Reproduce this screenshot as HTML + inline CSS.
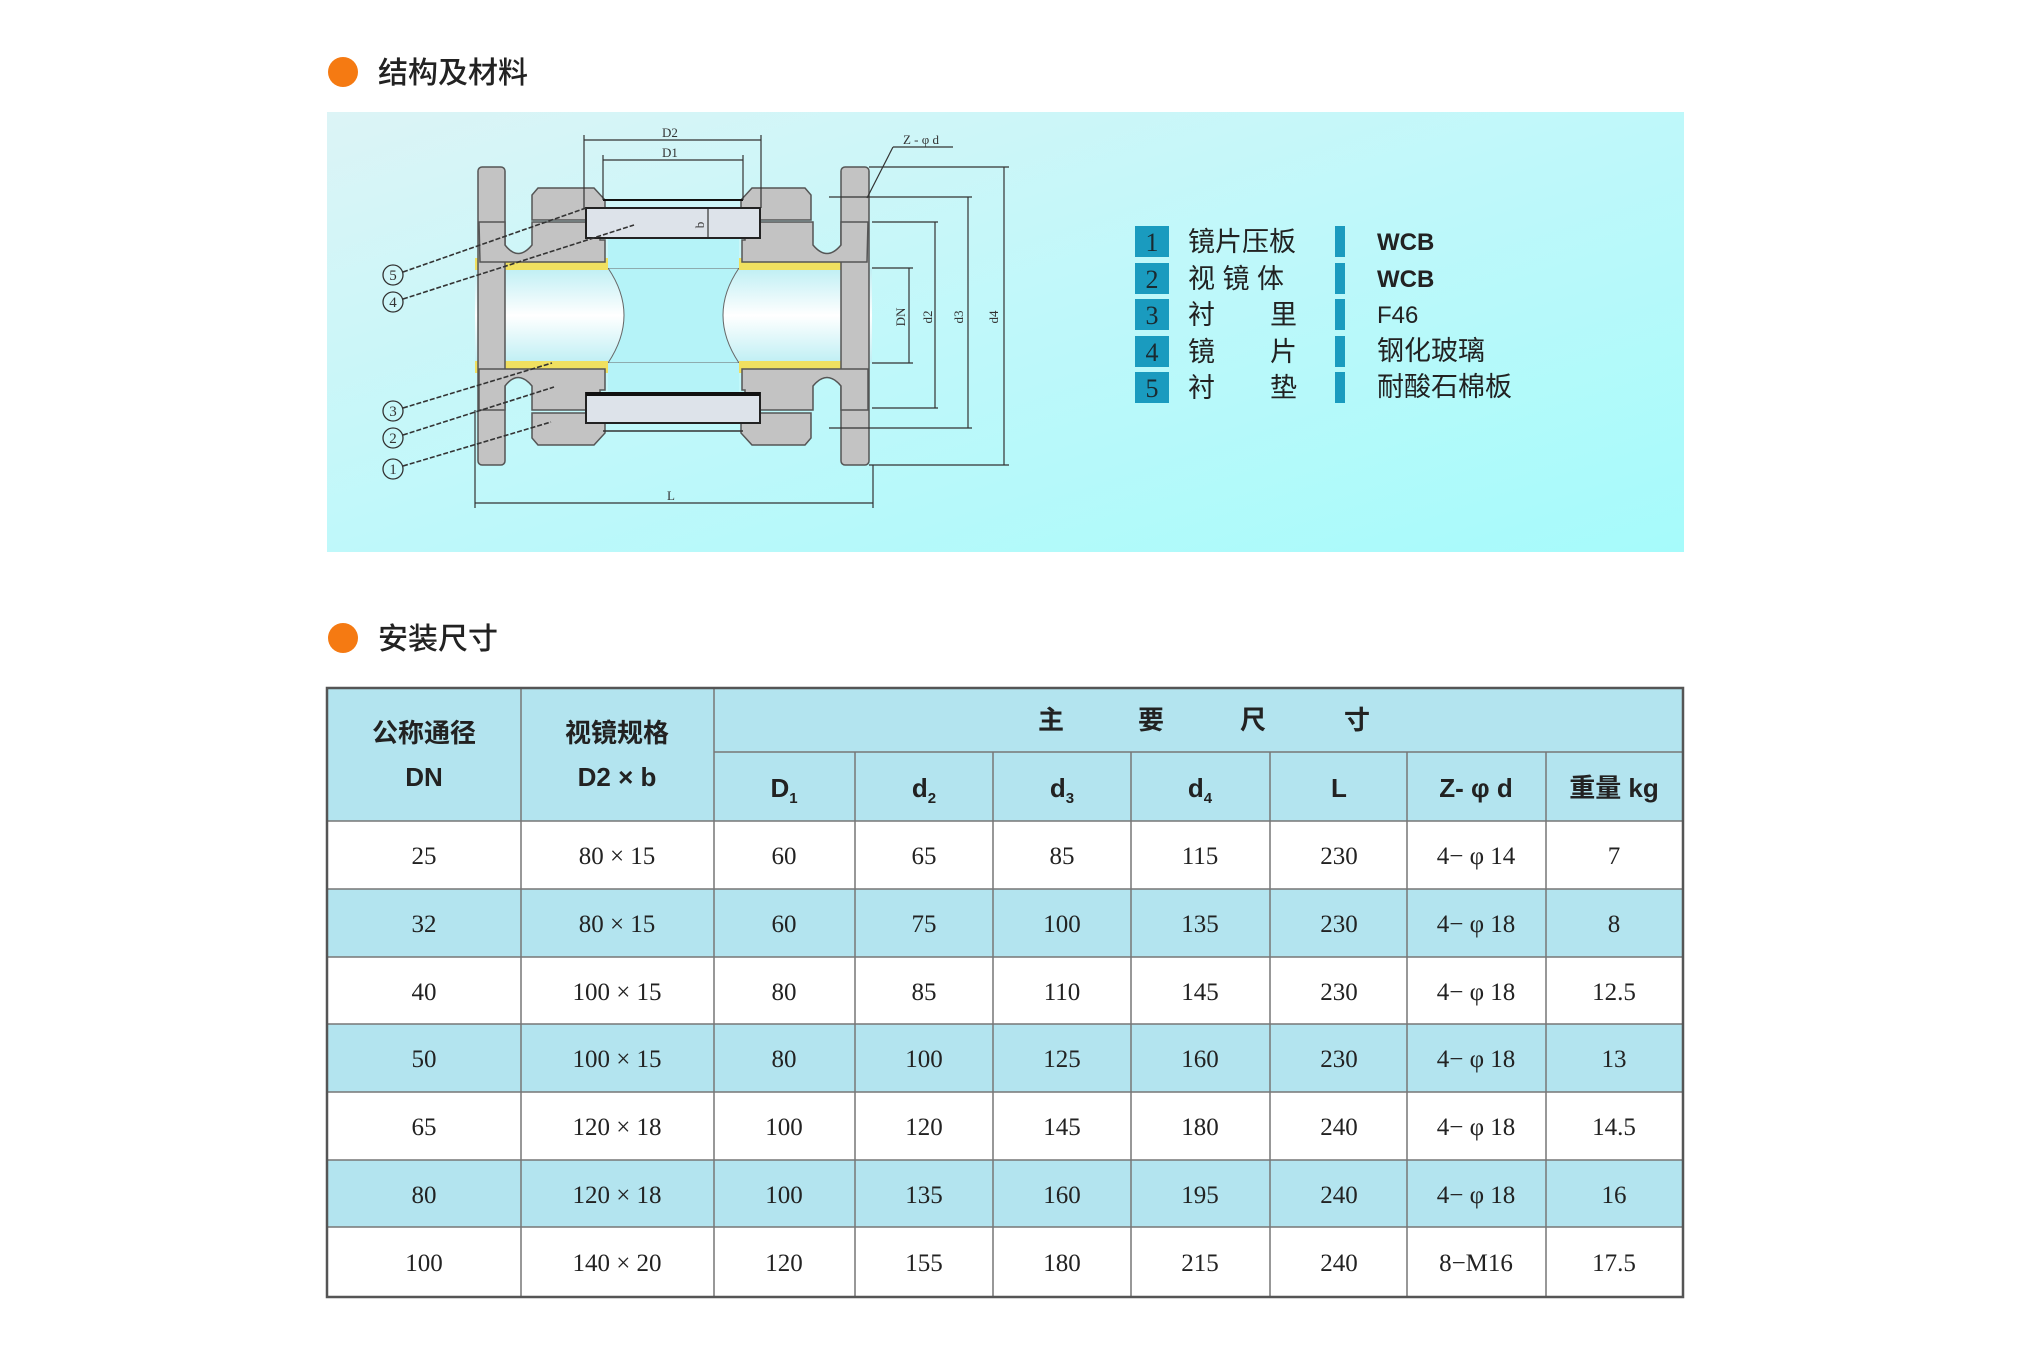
<!DOCTYPE html>
<html><head><meta charset="utf-8"><style>
html,body{margin:0;padding:0;background:#fff;}
svg{display:block}
.cj{font-family:"Liberation Sans","Noto Sans CJK SC",sans-serif;}
.sf{font-family:"Liberation Serif","Noto Serif CJK SC",serif;}
</style></head><body>
<svg width="2041" height="1361" viewBox="0 0 2041 1361" xmlns="http://www.w3.org/2000/svg">
<defs>
<linearGradient id="pg" x1="0" y1="0" x2="1" y2="1">
<stop offset="0" stop-color="#dcf4f6"/><stop offset="0.5" stop-color="#bff8fa"/><stop offset="1" stop-color="#a6fbfb"/>
</linearGradient>
<linearGradient id="bore" x1="0" y1="0" x2="0" y2="1">
<stop offset="0" stop-color="#bfeff4"/><stop offset="0.5" stop-color="#ffffff"/><stop offset="1" stop-color="#bfeff4"/>
</linearGradient>
</defs>
<!-- title 1 -->
<circle cx="343" cy="72" r="15" fill="#f57a12"/>
<text x="378" y="83" class="cj" font-size="30" fill="#222" font-weight="500">结构及材料</text>
<!-- panel -->
<rect x="327" y="112" width="1357" height="440" fill="url(#pg)"/>

<!-- drawing -->
<g stroke="#555" stroke-width="1.5">
<rect x="475" y="268" width="397" height="95" fill="url(#bore)" stroke="none"/>
<path d="M608,268 Q640,315 608,363 L739,363 Q707,315 739,268 Z" fill="#b5f3f8" stroke="#666" stroke-width="1"/>
<rect x="608" y="238" width="131" height="30" fill="#b5f3f8" stroke="none"/>
<rect x="608" y="363" width="131" height="30" fill="#b5f3f8" stroke="none"/>
<path d="M475,258 L608,258 L608,270 L475,270 Z M868,258 L739,258 L739,270 L868,270Z" fill="#f0e060" stroke="none"/>
<path d="M475,361 L608,361 L608,373 L475,373 Z M868,361 L739,361 L739,373 L868,373Z" fill="#f0e060" stroke="none"/>
<rect x="478" y="167" width="27" height="298" rx="4" fill="#c3c3c3"/>
<rect x="841" y="167" width="28" height="298" rx="4" fill="#c3c3c3"/>
<path d="M479,222 L505,222 L505,245 Q518,262 532,245 L532,222 L600,222 L600,240 L605,240 L605,262 L480,262 Z" fill="#c3c3c3"/>
<path d="M868,222 L841,222 L841,245 Q827,262 813,245 L813,222 L745,222 L745,240 L742,240 L742,262 L867,262 Z" fill="#c3c3c3"/>
<path d="M479,369 L605,369 L605,390 L600,390 L600,410 L532,410 L532,386 Q518,369 505,386 L505,410 L479,410 Z" fill="#c3c3c3"/>
<path d="M868,369 L742,369 L742,390 L745,390 L745,410 L813,410 L813,386 Q827,369 841,386 L841,410 L868,410 Z" fill="#c3c3c3"/>
<path d="M538,188 L594,188 L605,200 L605,220 L532,220 L532,195 Z" fill="#c3c3c3"/>
<path d="M805,188 L752,188 L741,200 L741,220 L811,220 L811,195 Z" fill="#c3c3c3"/>
<path d="M538,445 L594,445 L605,433 L605,413 L532,413 L532,438 Z" fill="#c3c3c3"/>
<path d="M805,445 L752,445 L741,433 L741,413 L811,413 L811,438 Z" fill="#c3c3c3"/>
<line x1="603" y1="200" x2="743" y2="200" stroke="#111" stroke-width="2"/>
<rect x="586" y="208" width="174" height="30" fill="#dde3ea" stroke="#222" stroke-width="2"/>
<rect x="586" y="393" width="174" height="30" fill="#dde3ea" stroke="#222" stroke-width="2"/>
<line x1="586" y1="394" x2="760" y2="394" stroke="#111" stroke-width="4"/>
<line x1="603" y1="431" x2="743" y2="431" stroke="#333" stroke-width="1.5"/>
</g>
<g stroke="#333" stroke-width="1.2" fill="none">
<line x1="584" y1="135" x2="584" y2="208"/><line x1="761" y1="135" x2="761" y2="208"/>
<line x1="584" y1="140" x2="761" y2="140"/>
<line x1="603" y1="155" x2="603" y2="200"/><line x1="743" y1="155" x2="743" y2="200"/>
<line x1="603" y1="160" x2="743" y2="160"/>
<line x1="708" y1="209" x2="708" y2="237"/>
<line x1="869" y1="167" x2="1009" y2="167"/><line x1="869" y1="465" x2="1009" y2="465"/><line x1="1004" y1="167" x2="1004" y2="465"/>
<line x1="829" y1="197" x2="972" y2="197"/><line x1="829" y1="428" x2="972" y2="428"/><line x1="968" y1="197" x2="968" y2="428"/>
<line x1="872" y1="222" x2="938" y2="222"/><line x1="872" y1="408" x2="938" y2="408"/><line x1="935" y1="222" x2="935" y2="408"/>
<line x1="872" y1="268" x2="913" y2="268"/><line x1="872" y1="363" x2="913" y2="363"/><line x1="909" y1="268" x2="909" y2="363"/>
<line x1="475" y1="410" x2="475" y2="508"/><line x1="873" y1="465" x2="873" y2="508"/>
<line x1="475" y1="503" x2="873" y2="503"/>
<line x1="893" y1="147" x2="953" y2="147"/><line x1="893" y1="147" x2="867" y2="198"/>
</g>
<g font-family="Liberation Serif,serif" font-size="13" fill="#333">
<text x="670" y="137" text-anchor="middle">D2</text>
<text x="670" y="157" text-anchor="middle">D1</text>
<text x="921" y="144" text-anchor="middle">Z - φ d</text>
<text x="671" y="500" text-anchor="middle">L</text>
<text transform="translate(704,225) rotate(-90)" text-anchor="middle">b</text>
<text transform="translate(905,317) rotate(-90)" text-anchor="middle">DN</text>
<text transform="translate(932,317) rotate(-90)" text-anchor="middle">d2</text>
<text transform="translate(963,317) rotate(-90)" text-anchor="middle">d3</text>
<text transform="translate(998,317) rotate(-90)" text-anchor="middle">d4</text>
</g>
<g stroke="#333" stroke-width="1.6" stroke-dasharray="5,2" fill="none">
<line x1="403" y1="272" x2="586" y2="208"/>
<line x1="403" y1="299" x2="634" y2="225"/>
<line x1="403" y1="408" x2="552" y2="363"/>
<line x1="403" y1="435" x2="554" y2="387"/>
<line x1="403" y1="466" x2="551" y2="422"/>
</g>
<g fill="none" stroke="#333" stroke-width="1.3">
<circle cx="393" cy="275" r="10"/><circle cx="393" cy="302" r="10"/><circle cx="393" cy="411" r="10"/><circle cx="393" cy="438" r="10"/><circle cx="393" cy="469" r="10"/>
</g>
<g font-family="Liberation Serif,serif" font-size="15" fill="#333" text-anchor="middle">
<text x="393" y="280">5</text><text x="393" y="307">4</text><text x="393" y="416">3</text><text x="393" y="443">2</text><text x="393" y="474">1</text>
</g>
<g fill="#1a9bbf">
<rect x="1135" y="226" width="34" height="31"/><rect x="1135" y="263" width="34" height="31"/><rect x="1135" y="299" width="34" height="31"/><rect x="1135" y="336" width="34" height="31"/><rect x="1135" y="372" width="34" height="31"/>
<rect x="1335" y="226" width="10" height="31"/><rect x="1335" y="263" width="10" height="31"/><rect x="1335" y="299" width="10" height="31"/><rect x="1335" y="336" width="10" height="31"/><rect x="1335" y="372" width="10" height="31"/>
</g>
<g class="sf" font-size="26" fill="#1a2a30" text-anchor="middle">
<text x="1152" y="251">1</text><text x="1152" y="288">2</text><text x="1152" y="324">3</text><text x="1152" y="361">4</text><text x="1152" y="397">5</text>
</g>
<g class="cj" font-size="27" fill="#222">
<text x="1188" y="251">镜片压板</text>
<text x="1188" y="288">视 镜 体</text>
<text x="1188" y="324">衬</text><text x="1270" y="324">里</text>
<text x="1188" y="361">镜</text><text x="1270" y="361">片</text>
<text x="1188" y="397">衬</text><text x="1270" y="397">垫</text>
</g>
<g class="cj" font-size="24" fill="#222">
<text x="1377" y="250" font-weight="bold">WCB</text>
<text x="1377" y="287" font-weight="bold">WCB</text>
<text x="1377" y="323">F46</text>
<text x="1377" y="360" font-size="27">钢化玻璃</text>
<text x="1377" y="396" font-size="27">耐酸石棉板</text>
</g>

<circle cx="343" cy="638" r="15" fill="#f57a12"/>
<text x="378" y="649" class="cj" font-size="30" fill="#222" font-weight="500">安装尺寸</text>

<g>
<rect x="327" y="688" width="1356" height="133" fill="#b3e4ef"/>
<rect x="327" y="889" width="1356" height="68" fill="#b3e4ef"/>
<rect x="327" y="1024" width="1356" height="68" fill="#b3e4ef"/>
<rect x="327" y="1160" width="1356" height="67" fill="#b3e4ef"/>
</g>
<g stroke="#777" stroke-width="1.5">
<line x1="714" y1="752" x2="1683" y2="752"/>
<line x1="327" y1="821" x2="1683" y2="821"/>
<line x1="327" y1="889" x2="1683" y2="889"/>
<line x1="327" y1="957" x2="1683" y2="957"/>
<line x1="327" y1="1024" x2="1683" y2="1024"/>
<line x1="327" y1="1092" x2="1683" y2="1092"/>
<line x1="327" y1="1160" x2="1683" y2="1160"/>
<line x1="327" y1="1227" x2="1683" y2="1227"/>
<line x1="521" y1="688" x2="521" y2="1297"/>
<line x1="714" y1="688" x2="714" y2="1297"/>
<line x1="855" y1="752" x2="855" y2="1297"/>
<line x1="993" y1="752" x2="993" y2="1297"/>
<line x1="1131" y1="752" x2="1131" y2="1297"/>
<line x1="1270" y1="752" x2="1270" y2="1297"/>
<line x1="1407" y1="752" x2="1407" y2="1297"/>
<line x1="1546" y1="752" x2="1546" y2="1297"/>
</g>
<rect x="327" y="688" width="1356" height="609" fill="none" stroke="#555" stroke-width="2.5"/>
<g class="cj" font-size="26" fill="#222" font-weight="bold" text-anchor="middle">
<text x="424" y="742">公称通径</text>
<text x="424" y="786">DN</text>
<text x="617" y="742">视镜规格</text>
<text x="617" y="786">D2 × b</text>
<text x="1051" y="729">主</text>
<text x="1151" y="729">要</text>
<text x="1253" y="729">尺</text>
<text x="1357" y="729">寸</text>
<text x="784" y="797">D<tspan font-size="15" dy="6">1</tspan></text>
<text x="924" y="797">d<tspan font-size="15" dy="6">2</tspan></text>
<text x="1062" y="797">d<tspan font-size="15" dy="6">3</tspan></text>
<text x="1200" y="797">d<tspan font-size="15" dy="6">4</tspan></text>
<text x="1339" y="797">L</text>
<text x="1476" y="797">Z- φ d</text>
<text x="1614" y="797">重量 kg</text>
</g>
<g class="sf" font-size="25" fill="#222" text-anchor="middle">
<text y="864"><tspan x="424">25</tspan><tspan x="617">80 × 15</tspan><tspan x="784">60</tspan><tspan x="924">65</tspan><tspan x="1062">85</tspan><tspan x="1200">115</tspan><tspan x="1339">230</tspan><tspan x="1476">4− φ 14</tspan><tspan x="1614">7</tspan></text>
<text y="932"><tspan x="424">32</tspan><tspan x="617">80 × 15</tspan><tspan x="784">60</tspan><tspan x="924">75</tspan><tspan x="1062">100</tspan><tspan x="1200">135</tspan><tspan x="1339">230</tspan><tspan x="1476">4− φ 18</tspan><tspan x="1614">8</tspan></text>
<text y="1000"><tspan x="424">40</tspan><tspan x="617">100 × 15</tspan><tspan x="784">80</tspan><tspan x="924">85</tspan><tspan x="1062">110</tspan><tspan x="1200">145</tspan><tspan x="1339">230</tspan><tspan x="1476">4− φ 18</tspan><tspan x="1614">12.5</tspan></text>
<text y="1067"><tspan x="424">50</tspan><tspan x="617">100 × 15</tspan><tspan x="784">80</tspan><tspan x="924">100</tspan><tspan x="1062">125</tspan><tspan x="1200">160</tspan><tspan x="1339">230</tspan><tspan x="1476">4− φ 18</tspan><tspan x="1614">13</tspan></text>
<text y="1135"><tspan x="424">65</tspan><tspan x="617">120 × 18</tspan><tspan x="784">100</tspan><tspan x="924">120</tspan><tspan x="1062">145</tspan><tspan x="1200">180</tspan><tspan x="1339">240</tspan><tspan x="1476">4− φ 18</tspan><tspan x="1614">14.5</tspan></text>
<text y="1203"><tspan x="424">80</tspan><tspan x="617">120 × 18</tspan><tspan x="784">100</tspan><tspan x="924">135</tspan><tspan x="1062">160</tspan><tspan x="1200">195</tspan><tspan x="1339">240</tspan><tspan x="1476">4− φ 18</tspan><tspan x="1614">16</tspan></text>
<text y="1271"><tspan x="424">100</tspan><tspan x="617">140 × 20</tspan><tspan x="784">120</tspan><tspan x="924">155</tspan><tspan x="1062">180</tspan><tspan x="1200">215</tspan><tspan x="1339">240</tspan><tspan x="1476">8−M16</tspan><tspan x="1614">17.5</tspan></text>
</g>
</svg>
</body></html>
